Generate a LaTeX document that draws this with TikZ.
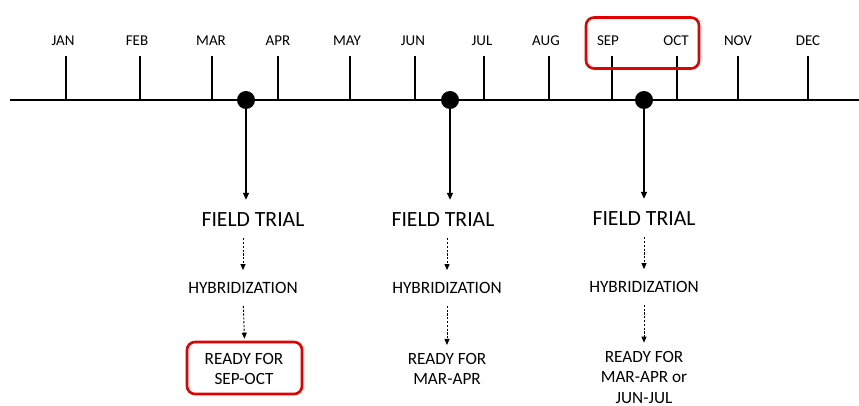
\documentclass[tikz,border=0pt]{standalone}
\usepackage{fontspec}
\setmainfont{Carlito}
\usetikzlibrary{arrows.meta}
\begin{document}
\begin{tikzpicture}[x=1pt,y=-1pt,
  month/.style={font=\fontsize{15}{17}\selectfont, inner sep=0pt},
  tick/.style={line width=1.8pt},
  dot/.style={circle, fill=black, minimum size=18pt, inner sep=0pt},
  ftext/.style={font=\fontsize{21.7}{24}\selectfont, inner sep=0pt},
  htext/.style={font=\fontsize{17.3}{19}\selectfont, inner sep=0pt},
  rtext/.style={font=\fontsize{17.2}{20.5}\selectfont, inner sep=0pt, align=center},
  solidarrow/.style={line width=1.5pt, -{Triangle[length=7pt,width=6pt]}},
  dasharrow/.style={line width=0.9pt, dash pattern=on 2.2pt off 1.6pt, -{Triangle[length=6pt,width=5pt]}},
  redbox/.style={draw=red!90!black, line width=2.6pt, rounded corners=8pt}
]
\useasboundingbox (0,0) rectangle (859,406);
% timeline
\coordinate (tl) at (10,100);
\coordinate (tr) at (859,100);
\draw[line width=2.6pt] (tl) -- (tr);
% ticks and months
\foreach \n/\x/\lx in {JAN/66/63, FEB/140/137, MAR/212/211, APR/278/278, MAY/350/347, JUN/415/413, JUL/484/482, AUG/549/546, SEP/612/608, OCT/677/676, NOV/738/738, DEC/808/808}{
  \coordinate (t\n) at (\x,56);
  \coordinate (b\n) at (\x,100);
  \draw[tick] (t\n) -- (b\n);
  \node[month] (l\n) at (\lx,41) {\n};
}
% red box at top
\node[redbox, minimum width=113pt, minimum height=51pt] (topbox) at (642.5,43) {};
% dots
\node[dot] (d1) at (246,100) {};
\node[dot] (d2) at (450,100) {};
\node[dot] (d3) at (644,100) {};
% field trial
\node[ftext] (ft1) at (253,220) {FIELD TRIAL};
\node[ftext] (ft2) at (443,220) {FIELD TRIAL};
\node[ftext] (ft3) at (644,219) {FIELD TRIAL};
% hybridization
\node[htext] (h1) at (243,288) {HYBRIDIZATION};
\node[htext] (h2) at (447,288) {HYBRIDIZATION};
\node[htext] (h3) at (644,287) {HYBRIDIZATION};
% ready
\node[rtext] (r1) at (244,369) {READY FOR\\SEP-OCT};
\node[rtext] (r2) at (447,369) {READY FOR\\MAR-APR};
\node[rtext] (r3) at (644,377) {READY FOR\\MAR-APR or\\JUN-JUL};
\node[redbox, minimum width=115pt, minimum height=52pt] (rbox1) at (244.5,368) {};
% solid arrows
\draw[solidarrow, shorten >=13pt] (d1.center) -- (d1.center |- ft1.north);
\draw[solidarrow, shorten >=13pt] (d2.center) -- (d2.center |- ft2.north);
\draw[solidarrow, shorten >=13pt] (d3.center) -- (d3.center |- ft3.north);
% dashed arrows
\draw[dasharrow, shorten <=11pt, shorten >=12pt] (h1.north |- ft1.south) -- (h1.north);
\draw[dasharrow, shorten <=12pt, shorten >=2pt] (h1.south) -- (rbox1.north);
\draw[dasharrow, shorten <=11pt, shorten >=12pt] (h2.north |- ft2.south) -- (h2.north);
\draw[dasharrow, shorten <=12pt, shorten >=8pt] (h2.south) -- (h2.south |- r2.north);
\draw[dasharrow, shorten <=11pt, shorten >=12pt] (h3.north |- ft3.south) -- (h3.north);
\draw[dasharrow, shorten <=12pt, shorten >=8pt] (h3.south) -- (h3.south |- r3.north);
\end{tikzpicture}
\end{document}
